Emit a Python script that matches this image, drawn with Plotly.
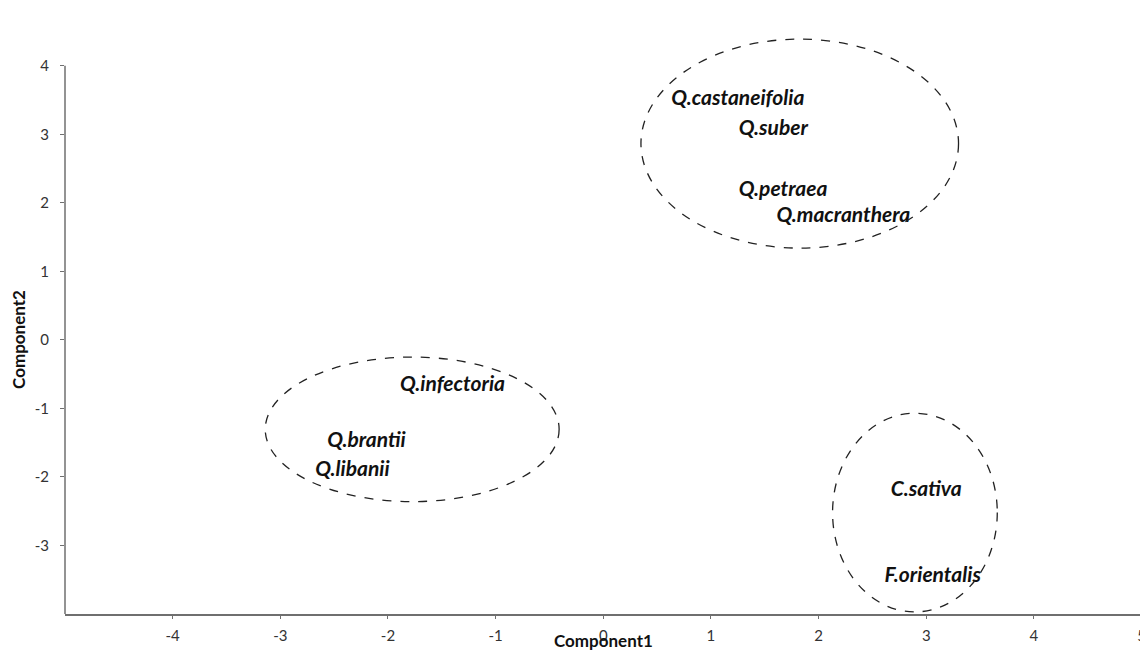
import plotly.graph_objects as go

# Species labels and their positions on the two components
species = ["Q.castaneifolia", "Q.suber", "Q.petraea", "Q.macranthera",
           "Q.infectoria", "Q.brantii", "Q.libanii", "C.sativa", "F.orientalis"]
comp1 = [1.25, 1.58, 1.67, 2.23, -1.40, -2.20, -2.33, 3.00, 3.06]
comp2 = [3.50, 3.07, 2.18, 1.80, -0.67, -1.49, -1.91, -2.20, -3.45]

# Group ellipses (bounding boxes in data units): x0, x1, y0, y1
ell_x0 = [0.35, -3.14, 2.13]
ell_x1 = [3.30, -0.41, 3.66]
ell_y0 = [1.34, -2.36, -3.97]
ell_y1 = [4.39, -0.25, -1.07]

x_ticks = [-4, -3, -2, -1, 0, 1, 2, 3, 4, 5]
y_ticks = [-3, -2, -1, 0, 1, 2, 3, 4]

FONT = "Lato, 'Open Sans', sans-serif"
AXIS_COLOR = "#6f6f6f"

fig = go.Figure()
fig.add_trace(go.Scatter(
    x=comp1, y=comp2, text=species, mode="text",
    textfont=dict(family=FONT, size=21, color="#111111", style="italic", weight="bold"),
    textposition="middle center", cliponaxis=False, showlegend=False,
    hoverinfo="text"))

shapes = []
for a, b, c, d in zip(ell_x0, ell_x1, ell_y0, ell_y1):
    shapes.append(dict(type="circle", xref="x", yref="y", x0=a, x1=b, y0=c, y1=d,
                       line=dict(color="#222222", width=1.3, dash="dash"),
                       layer="above"))
# y axis line only from -4 to 4
shapes.append(dict(type="line", xref="paper", yref="y", x0=0, x1=0, y0=-4, y1=4,
                   line=dict(color=AXIS_COLOR, width=1.5)))

fig.update_layout(
    width=1140, height=642,
    margin=dict(l=57, r=0, t=27, b=36),
    paper_bgcolor="white", plot_bgcolor="white",
    shapes=shapes,
    font=dict(family=FONT, size=15, color="#333333"),
    xaxis=dict(range=[-5, 5.06], tickvals=x_ticks, ticktext=[str(v) for v in x_ticks],
               showgrid=False, zeroline=False, showline=True, linecolor=AXIS_COLOR,
               linewidth=1.5, ticks="outside", ticklen=3, tickcolor=AXIS_COLOR,
               ticklabelstandoff=4,
               tickfont=dict(size=15, color="#333333")),
    yaxis=dict(range=[-4, 4.45], tickvals=y_ticks, ticktext=[str(v) for v in y_ticks],
               showgrid=False, zeroline=False, showline=False,
               ticks="outside", ticklen=4, tickcolor=AXIS_COLOR,
               ticklabelstandoff=8,
               tickfont=dict(size=15, color="#333333")),
    annotations=[
        dict(text="<b>Component1</b>", xref="x", yref="paper", x=0, y=0, yshift=-26,
             xanchor="center", yanchor="middle",
             showarrow=False, font=dict(family=FONT, size=17, color="#111111")),
        dict(text="<b>Component2</b>", xref="paper", yref="y", x=0, y=0, xshift=-46,
             xanchor="center", yanchor="middle",
             textangle=-90, showarrow=False, font=dict(family=FONT, size=17, color="#111111")),
    ],
)

fig.write_html("out.html")
